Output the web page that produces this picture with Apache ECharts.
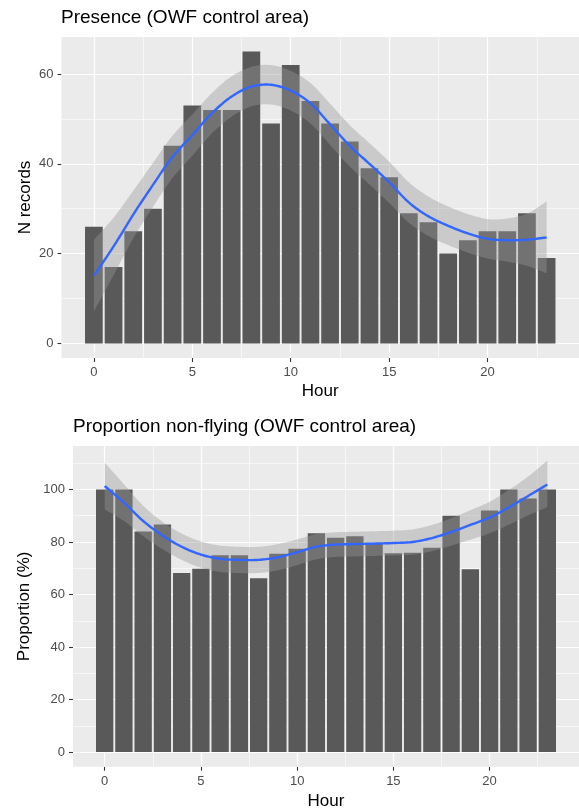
<!DOCTYPE html>
<html>
<head>
<meta charset="utf-8">
<script src="https://cdn.jsdelivr.net/npm/echarts@6/dist/echarts.min.js"></script>
<style>
html,body{margin:0;padding:0;background:#fff;}
#chart{width:579px;height:812px;}
</style>
</head>
<body>
<div id="chart"></div>
<script>
// ---- data ----
var hours = [0,1,2,3,4,5,6,7,8,9,10,11,12,13,14,15,16,17,18,19,20,21,22,23];
var presence = [26,17,25,30,44,53,52,52,65,49,62,54,49,45,39,37,29,27,20,23,25,25,29,19];
var presenceFit  = [15.1,21.6,28.7,35.3,41.6,46.4,51.3,55.0,57.2,57.6,56.3,53.5,48.8,44.0,40.0,35.9,31.4,28.3,26.2,24.5,23.3,23.0,23.1,23.6];
var presenceLow  = [7.1,15.2,23.4,30.4,36.9,41.8,46.8,50.5,52.8,53.2,51.9,49.0,44.2,39.4,35.4,31.3,26.9,23.9,21.9,20.2,18.9,18.2,17.3,15.6];
var presenceHigh = [23.1,28.0,34.0,40.2,46.3,51.0,55.8,59.5,61.6,62.0,60.7,58.0,53.4,48.6,44.6,40.5,35.9,32.7,30.5,28.8,27.7,27.8,28.9,31.6];

var proportion = [100,100,84,86.7,68.2,69.8,75,75,66.2,75.5,77.4,83.3,81.6,82.2,79.5,75.7,75.9,77.8,90,69.6,92,100,96.6,100];
var proportionFit  = [101.3,95.0,88.0,82.5,78.2,75.2,73.6,73.2,73.2,74.2,76.1,78.2,79.0,79.2,79.4,79.6,80.0,81.5,83.8,86.5,89.3,93.2,97.5,101.9];
var proportionLow  = [92.4,88.0,82.2,77.3,73.2,70.2,68.6,68.2,68.2,69.2,71.2,73.4,74.3,74.5,74.7,74.9,75.2,76.5,78.6,80.9,83.3,86.6,90.1,93.3];
var proportionHigh = [110.2,102.0,93.8,87.7,83.2,80.2,78.6,78.2,78.2,79.2,81.0,83.0,83.7,83.9,84.1,84.3,84.8,86.5,89.0,92.1,95.3,99.8,104.9,111.0];

var xTicks = [0,5,10,15,20];
var xMinor = [2.5,7.5,12.5,17.5,22.5];
var presenceTicks = [0,20,40,60];
var presenceMinor = [10,30,50];
var proportionTicks = [0,20,40,60,80,100];
var proportionMinor = [10,30,50,70,90,110];

var titles = ['Presence (OWF control area)', 'Proportion non-flying (OWF control area)'];
var xName = 'Hour';
var yNames = ['N records', 'Proportion (%)'];

// ---- helpers ----
var FONT = '"Liberation Sans", Arial, sans-serif';
var BAR_W = 0.9;
function expand(lo, hi) { var d = (hi - lo) * 0.05; return [lo - d, hi + d]; }
var xRange = expand(hours[0] - BAR_W / 2, hours[hours.length - 1] + BAR_W / 2);
var yRange1 = expand(Math.min(0, Math.min.apply(null, presenceLow)), Math.max(Math.max.apply(null, presence), Math.max.apply(null, presenceHigh)));
var yRange2 = expand(Math.min(0, Math.min.apply(null, proportionLow)), Math.max(Math.max.apply(null, proportion), Math.max.apply(null, proportionHigh)));

// Catmull-Rom rendering of a pixel polyline (drawing only)
function smoothPath(p) {
  var out = [p[0]], n = p.length, S = 10;
  for (var i = 0; i < n - 1; i++) {
    var a = p[i - 1] || p[i], b = p[i], c = p[i + 1], d = p[i + 2] || p[i + 1];
    var c1 = [b[0] + (c[0] - a[0]) / 6, b[1] + (c[1] - a[1]) / 6];
    var c2 = [c[0] - (d[0] - b[0]) / 6, c[1] - (d[1] - b[1]) / 6];
    for (var k = 1; k <= S; k++) {
      var t = k / S, u = 1 - t;
      out.push([
        u*u*u*b[0] + 3*u*u*t*c1[0] + 3*u*t*t*c2[0] + t*t*t*c[0],
        u*u*u*b[1] + 3*u*u*t*c1[1] + 3*u*t*t*c2[1] + t*t*t*c[1]
      ]);
    }
  }
  return out;
}

function axisCommon() {
  return {
    axisLine: { show: true, onZero: false, lineStyle: { color: 'rgba(0,0,0,0)' } },
    splitLine: { show: false },
    nameMoveOverlap: false
  };
}
function xAxisDef(gi, nameGap) {
  return Object.assign(axisCommon(), {
    type: 'value', gridIndex: gi, min: xRange[0], max: xRange[1],
    name: xName, nameLocation: 'middle', nameGap: nameGap,
    nameTextStyle: { color: '#000', fontSize: 17, fontFamily: FONT },
    axisTick: { show: true, inside: false, length: 4, lineStyle: { color: '#333333', width: 1.1 }, customValues: xTicks },
    axisLabel: { color: '#4D4D4D', fontSize: 13, fontFamily: FONT, margin: 8, customValues: xTicks }
  });
}
function yAxisDef(gi, range, ticks, name, nameGap) {
  return Object.assign(axisCommon(), {
    type: 'value', gridIndex: gi, min: range[0], max: range[1],
    name: name, nameLocation: 'middle', nameGap: nameGap,
    nameTextStyle: { color: '#000', fontSize: 17, fontFamily: FONT },
    axisTick: { show: true, inside: false, length: 4, lineStyle: { color: '#333333', width: 1.1 }, customValues: ticks },
    axisLabel: { color: '#4D4D4D', fontSize: 13, fontFamily: FONT, margin: 8, customValues: ticks }
  });
}
function gridLines(gi, yMajor, yMinor) {
  var d = [];
  yMinor.forEach(function (v) { d.push({ yAxis: v, lineStyle: { width: 0.6 } }); });
  xMinor.forEach(function (v) { d.push({ xAxis: v, lineStyle: { width: 0.6 } }); });
  yMajor.forEach(function (v) { d.push({ yAxis: v, lineStyle: { width: 1.2 } }); });
  xTicks.forEach(function (v) { d.push({ xAxis: v, lineStyle: { width: 1.2 } }); });
  return {
    type: 'line', xAxisIndex: gi, yAxisIndex: gi, z: 1, silent: true,
    data: [[xTicks[0], yMajor[0]]], symbol: 'none', lineStyle: { opacity: 0 },
    markLine: { z: 1, silent: true, symbol: 'none', animation: false, label: { show: false },
      lineStyle: { color: '#ffffff', type: 'solid' }, data: d }
  };
}
function barSeries(gi, vals) {
  return {
    type: 'custom', xAxisIndex: gi, yAxisIndex: gi, z: 2, silent: true,
    data: hours.map(function (h, i) { return [h, vals[i]]; }),
    encode: { x: 0, y: 1 },
    renderItem: function (params, api) {
      var x = api.value(0), y = api.value(1);
      var p0 = api.coord([x - BAR_W / 2, y]);
      var p1 = api.coord([x + BAR_W / 2, 0]);
      return { type: 'rect', shape: { x: p0[0], y: p0[1], width: p1[0] - p0[0], height: p1[1] - p0[1] },
        style: { fill: '#595959' } };
    }
  };
}
function ribbonSeries(gi, low, high) {
  return {
    type: 'custom', xAxisIndex: gi, yAxisIndex: gi, z: 3, silent: true,
    data: hours.map(function (h, i) { return [h, low[i], high[i]]; }),
    encode: { x: 0, y: [1, 2] },
    renderItem: function (params, api) {
      if (params.dataIndex !== 0) return null;
      var n = hours.length, up = [], lo = [];
      for (var i = 0; i < n; i++) {
        up.push(api.coord([api.value(0, i), api.value(2, i)]));
        lo.push(api.coord([api.value(0, i), api.value(1, i)]));
      }
      var pts = smoothPath(up).concat(smoothPath(lo).reverse());
      return { type: 'polygon', shape: { points: pts },
        style: { fill: 'rgba(153,153,153,0.4)' } };
    }
  };
}
function fitSeries(gi, fit) {
  return {
    type: 'custom', xAxisIndex: gi, yAxisIndex: gi, z: 4, silent: true,
    data: hours.map(function (h, i) { return [h, fit[i]]; }),
    encode: { x: 0, y: 1 },
    renderItem: function (params, api) {
      if (params.dataIndex !== 0) return null;
      var pts = [];
      for (var i = 0; i < hours.length; i++) pts.push(api.coord([api.value(0, i), api.value(1, i)]));
      return { type: 'polyline', shape: { points: smoothPath(pts) },
        style: { stroke: '#3366FF', lineWidth: 2.4, fill: null, lineJoin: 'round', lineCap: 'butt' } };
    }
  };
}

var option = {
  animation: false,
  backgroundColor: '#ffffff',
  title: [
    { text: titles[0], left: 61, top: 8, padding: 0, textStyle: { fontSize: 19, fontWeight: 'normal', color: '#000', fontFamily: FONT } },
    { text: titles[1], left: 73, top: 417, padding: 0, textStyle: { fontSize: 19, fontWeight: 'normal', color: '#000', fontFamily: FONT } }
  ],
  grid: [
    { left: 61.5, top: 37, width: 519.2, height: 321, show: true, backgroundColor: '#EBEBEB', borderWidth: 0 },
    { left: 73, top: 446, width: 507.7, height: 320.7, show: true, backgroundColor: '#EBEBEB', borderWidth: 0 }
  ],
  xAxis: [xAxisDef(0, 25), xAxisDef(1, 26.5)],
  yAxis: [yAxisDef(0, yRange1, presenceTicks, yNames[0], 28), yAxisDef(1, yRange2, proportionTicks, yNames[1], 40)],
  series: [
    gridLines(0, presenceTicks, presenceMinor),
    barSeries(0, presence),
    ribbonSeries(0, presenceLow, presenceHigh),
    fitSeries(0, presenceFit),
    gridLines(1, proportionTicks, proportionMinor),
    barSeries(1, proportion),
    ribbonSeries(1, proportionLow, proportionHigh),
    fitSeries(1, proportionFit)
  ]
};
var chart = echarts.init(document.getElementById('chart'), null, { renderer: 'canvas' });
chart.setOption(option);
</script>
</body>
</html>
